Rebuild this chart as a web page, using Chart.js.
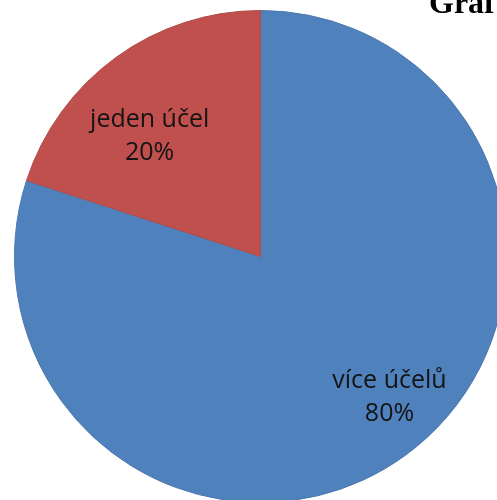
<!DOCTYPE html>
<html>
<head>
<meta charset="utf-8">
<script src="https://cdn.jsdelivr.net/npm/chart.js@4/dist/chart.umd.min.js"></script>
<style>
  html, body { margin: 0; padding: 0; background: #fff; overflow: hidden; }
  #wrap { position: absolute; left: 0; top: 0; width: 520px; height: 520px; }
</style>
</head>
<body>
<div id="wrap"><canvas id="c" width="520" height="520"></canvas></div>
<script>
// ---- data ----
const categories = ['více účelů', 'jeden účel'];
const values = [80, 20];
const percentLabels = ['80%', '20%'];
const titleText = 'Graf';

// ---- styles ----
const sliceColors = ['#4F81BD', '#C0504D'];
const sliceBorders = ['#4a78b0', '#b04a47'];
const labelRadiusFrac = [0.776, 0.667];
const labelAngleShift = -6.5 * Math.PI / 180;

const labelPlugin = {
  id: 'sliceLabels',
  afterDatasetsDraw(chart) {
    const ctx = chart.ctx;
    const meta = chart.getDatasetMeta(0);
    ctx.save();
    ctx.fillStyle = '#141414';
    ctx.font = '25px "Open Sans"';
    ctx.textAlign = 'center';
    ctx.textBaseline = 'middle';
    meta.data.forEach((arc, i) => {
      const p = arc.getProps(['x', 'y', 'startAngle', 'endAngle', 'outerRadius'], true);
      const mid = (p.startAngle + p.endAngle) / 2 + labelAngleShift;
      const r = p.outerRadius * labelRadiusFrac[i];
      const cx = p.x + Math.cos(mid) * r;
      const cy = p.y + Math.sin(mid) * r;
      ctx.fillText(chart.data.labels[i], cx, cy - 16);
      ctx.fillText(percentLabels[i], cx, cy + 17);
    });
    ctx.restore();
  }
};

const titlePlugin = {
  id: 'cutTitle',
  afterDraw(chart) {
    const ctx = chart.ctx;
    ctx.save();
    ctx.fillStyle = '#000';
    ctx.font = 'bold 32px "Liberation Serif"';
    ctx.textAlign = 'left';
    ctx.textBaseline = 'alphabetic';
    ctx.fillText(titleText, 429, 13);
    ctx.restore();
  }
};

new Chart(document.getElementById('c'), {
  type: 'pie',
  data: {
    labels: categories,
    datasets: [{
      data: values,
      backgroundColor: sliceColors,
      borderColor: sliceBorders,
      borderWidth: 1,
      hoverOffset: 0,
      offset: 0
    }]
  },
  options: {
    responsive: false,
    animation: false,
    layout: { padding: { left: 14, right: 13, top: 10, bottom: 17 } },
    plugins: {
      legend: { display: false },
      tooltip: { enabled: false },
      title: { display: false }
    }
  },
  plugins: [labelPlugin, titlePlugin]
});
</script>
</body>
</html>
